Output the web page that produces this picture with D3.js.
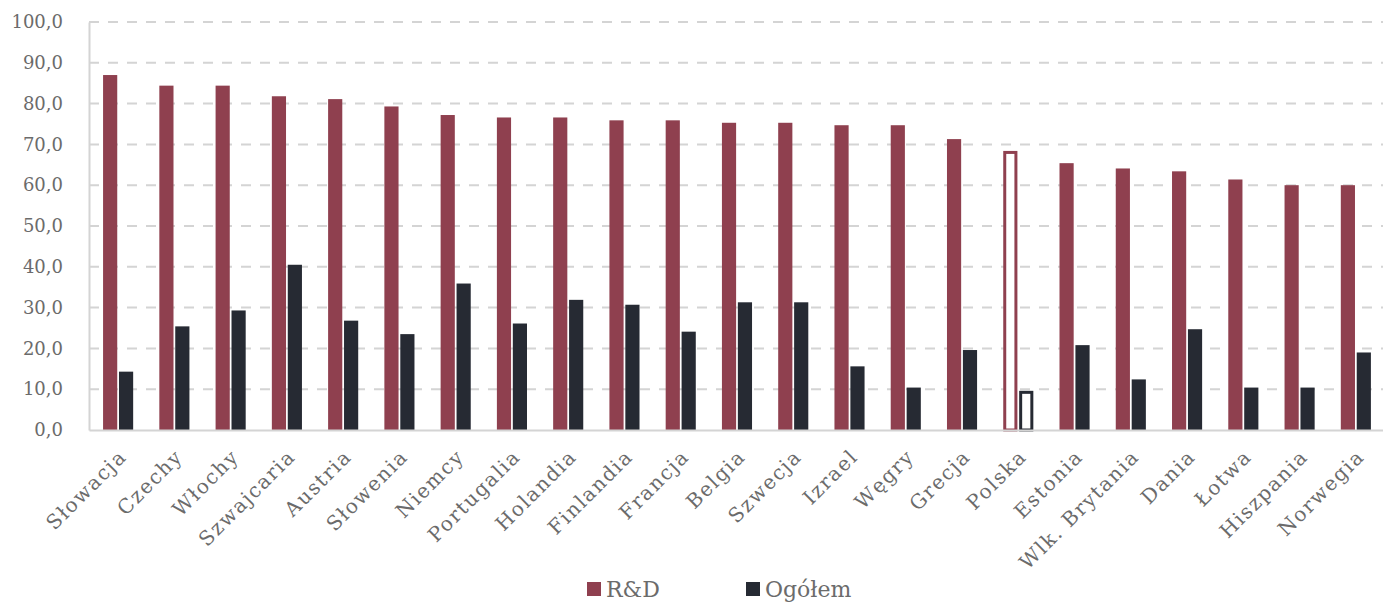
<!DOCTYPE html>
<html>
<head>
<meta charset="utf-8">
<script src="https://cdn.jsdelivr.net/npm/d3@7/dist/d3.min.js"></script>
<style>
  html, body { margin: 0; padding: 0; background: #fff; }
  svg { display: block; }
  text { font-family: "DejaVu Serif", serif; fill: #6b6b6b; }
</style>
</head>
<body>
<svg id="chart" width="1383" height="603"></svg>
<script>
// Kraje (w kolejności malejącej wartości R&D)
const countries = ["Słowacja", "Czechy", "Włochy", "Szwajcaria", "Austria", "Słowenia", "Niemcy",
  "Portugalia", "Holandia", "Finlandia", "Francja", "Belgia", "Szwecja", "Izrael", "Węgry",
  "Grecja", "Polska", "Estonia", "Wlk. Brytania", "Dania", "Łotwa", "Hiszpania", "Norwegia"];

// Wartości serii
const rdValues = [87.0, 84.4, 84.4, 81.8, 81.1, 79.3, 77.2, 76.6, 76.6, 75.9, 75.9, 75.3, 75.3,
  74.7, 74.7, 71.3, 68.4, 65.4, 64.1, 63.4, 61.4, 60.0, 60.0];
const totalValues = [14.3, 25.4, 29.3, 40.5, 26.8, 23.5, 35.9, 26.1, 31.9, 30.7, 24.1, 31.3, 31.3,
  15.6, 10.4, 19.6, 9.6, 20.8, 12.4, 24.7, 10.4, 10.4, 19.0];

const seriesNames = ["R&D", "Ogółem"];
const yTicks = [0, 10, 20, 30, 40, 50, 60, 70, 80, 90, 100];
const highlighted = "Polska";

const colors = { "R&D": "#8f404f", "Ogółem": "#262a33" };

const svg = d3.select("#chart");
const margin = { top: 22, right: 0, bottom: 173, left: 89 };
const width = 1383 - margin.left - margin.right;
const height = 603 - margin.top - margin.bottom;

const g = svg.append("g").attr("transform", `translate(${margin.left},${margin.top})`);

const x = d3.scaleBand().domain(countries).range([0, width]).paddingInner(0).paddingOuter(0);
const x1 = d3.scaleBand().domain(seriesNames).range([x.bandwidth() * 0.25, x.bandwidth() * 0.785]).paddingInner(0.11);
const y = d3.scaleLinear().domain([0, 100]).range([height, 0]);

// Siatka pozioma
g.append("g")
  .selectAll("line")
  .data(yTicks.filter(t => t > 0))
  .join("line")
  .attr("x1", 0).attr("x2", width)
  .attr("y1", d => y(d)).attr("y2", d => y(d))
  .attr("stroke", "#d4d4d4").attr("stroke-width", 2)
  .attr("stroke-dasharray", "10,9");

// Oś Y
const yAxis = g.append("g")
  .call(d3.axisLeft(y).tickValues(yTicks).tickSize(0).tickPadding(26)
    .tickFormat(d => d3.format(".1f")(d).replace(".", ",")));
yAxis.select(".domain").attr("stroke", "#d4d4d4").attr("stroke-width", 2);
yAxis.selectAll("text").style("font-size", "18px").attr("fill", "#707070");

// Słupki
const rows = countries.map((c, i) => ({ country: c, values: [
  { key: "R&D", value: rdValues[i] },
  { key: "Ogółem", value: totalValues[i] }
]}));

const groups = g.append("g").selectAll("g")
  .data(rows).join("g")
  .attr("transform", d => `translate(${x(d.country)},0)`);

groups.selectAll("rect")
  .data(d => d.values.map(v => ({ ...v, country: d.country })))
  .join("rect")
  .each(function(d) {
    const r = d3.select(this);
    const hl = d.country === highlighted;
    const sw = 3;
    if (hl) {
      r.attr("x", x1(d.key) + sw / 2)
        .attr("y", y(d.value) + sw / 2)
        .attr("width", x1.bandwidth() - sw)
        .attr("height", y(0) - y(d.value) - sw / 2)
        .attr("fill", "#fff")
        .attr("stroke", colors[d.key])
        .attr("stroke-width", sw);
    } else {
      r.attr("x", x1(d.key))
        .attr("y", y(d.value))
        .attr("width", x1.bandwidth())
        .attr("height", y(0) - y(d.value))
        .attr("fill", colors[d.key]);
    }
  });

// Oś X
const xAxis = g.append("g")
  .attr("transform", `translate(0,${height})`)
  .call(d3.axisBottom(x).tickSize(0).tickPadding(0));
xAxis.select(".domain").attr("stroke", "#d4d4d4").attr("stroke-width", 2);
xAxis.selectAll("text")
  .style("font-size", "20px")
  .style("letter-spacing", "1.6px")
  .attr("fill", "#707070")
  .attr("text-anchor", "end")
  .attr("dy", "0.35em")
  .attr("transform", d => `translate(${x.bandwidth() * 0.1},23) rotate(-45)`);

// Legenda
const legend = svg.append("g").attr("transform", "translate(0,588)");
const legendItems = [{ key: "R&D", x: 587 }, { key: "Ogółem", x: 746 }];
legendItems.forEach(it => {
  legend.append("rect")
    .attr("x", it.x).attr("y", -6).attr("width", 14).attr("height", 14)
    .attr("fill", colors[it.key]);
  legend.append("text")
    .attr("x", it.x + 19).attr("y", 9)
    .style("font-size", "22px")
    .attr("fill", "#6b6b6b")
    .text(it.key);
});
</script>
</body>
</html>
